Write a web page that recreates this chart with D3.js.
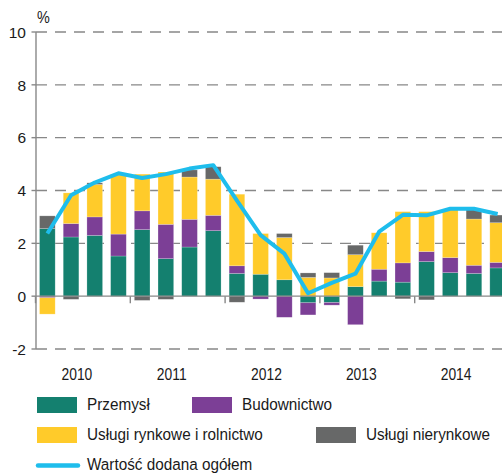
<!DOCTYPE html>
<html><head><meta charset="utf-8">
<script src="https://cdn.jsdelivr.net/npm/d3@7"></script>
<style>body{margin:0;background:#fff}svg{display:block}text{font-family:"Liberation Sans",Arial,sans-serif;fill:#1a1a1a}</style>
</head><body><svg id="c" width="502" height="473"></svg>
<script>
const quarters = ["2010Q1","2010Q2","2010Q3","2010Q4","2011Q1","2011Q2","2011Q3","2011Q4","2012Q1","2012Q2","2012Q3","2012Q4","2013Q1","2013Q2","2013Q3","2013Q4","2014Q1","2014Q2","2014Q3","2014Q4"];
const years = ["2010","2011","2012","2013","2014"];
const przemysl = [2.56,2.24,2.30,1.52,2.52,1.42,1.86,2.48,0.86,0.83,0.62,-0.25,-0.24,0.36,0.57,0.53,1.31,0.89,0.86,1.07];
const budownictwo = [-0.06,0.51,0.70,0.83,0.71,1.30,1.05,0.58,0.29,-0.11,-0.80,-0.46,-0.10,-1.08,0.45,0.73,0.38,0.57,0.31,0.21];
const uslugiRynkowe = [-0.62,1.16,1.23,2.27,1.39,1.98,1.60,1.37,2.71,1.54,1.60,0.71,0.69,1.21,1.38,1.94,1.51,1.84,1.75,1.50];
const uslugiNierynkowe = [0.48,-0.12,0.06,0.00,-0.16,-0.12,0.27,0.47,-0.23,0.00,0.15,0.17,0.20,0.36,0.00,-0.10,-0.14,0.00,0.38,0.29];
const wartoscDodana = [2.37,3.82,4.30,4.65,4.47,4.62,4.83,4.96,3.62,2.31,1.61,0.11,0.50,0.85,2.44,3.08,3.06,3.31,3.31,3.11];
const yTicks = [-2,0,2,4,6,8,10];
const seriesNames = ["Przemysł","Budownictwo","Usługi rynkowe i rolnictwo","Usługi nierynkowe"];
const lineName = "Wartość dodana ogółem";
const colors = ["#14806f","#7c3f96","#ffcb2a","#676868"];
const lineColor = "#1ebdec";

const svg = d3.select("#c");
const x = d3.scaleBand().domain(quarters).range([35.5, 509.5]).paddingInner(0.34).paddingOuter(0.17);
const y = d3.scaleLinear().domain([-2, 10]).range([349, 32]);
function txt(g, xx, yy, s, anchor, size, sx) {
  return g.append("text").attr("transform", `translate(${xx},${yy}) scale(${sx},1)`)
    .attr("text-anchor", anchor || "start").style("font-size", size + "px").text(s);
}

// gridlines
const grid = svg.append("g");
yTicks.filter(v => v !== 0).forEach(v => {
  grid.append("line").attr("x1", 36).attr("x2", 502).attr("y1", y(v)).attr("y2", y(v))
    .attr("stroke", "#888").attr("stroke-width", 1.4).attr("stroke-dasharray", "11,8");
});

// stacked bars
const rows = quarters.map((q, i) => ({q, s0: przemysl[i], s1: budownictwo[i], s2: uslugiRynkowe[i], s3: uslugiNierynkowe[i]}));
const stack = d3.stack().keys(["s0","s1","s2","s3"]).offset(d3.stackOffsetDiverging);
const layers = stack(rows);
svg.append("g").selectAll("g").data(layers).join("g").attr("fill", (d, i) => colors[i])
  .selectAll("rect").data(d => d).join("rect")
  .attr("x", d => x(d.data.q)).attr("width", x.bandwidth())
  .attr("y", d => y(Math.max(d[0], d[1])))
  .attr("height", d => Math.abs(y(d[0]) - y(d[1])))
  .attr("stroke", "#fff").attr("stroke-opacity", 0.35).attr("stroke-width", 0.6);

// axes
svg.append("line").attr("x1", 36).attr("x2", 36).attr("y1", y(10)).attr("y2", y(-2)).attr("stroke", "#888").attr("stroke-width", 1.4);
svg.append("line").attr("x1", 36).attr("x2", 502).attr("y1", y(0)).attr("y2", y(0)).attr("stroke", "#888").attr("stroke-width", 1.4);
yTicks.forEach(v => {
  svg.append("line").attr("x1", 31.5).attr("x2", 36).attr("y1", y(v)).attr("y2", y(v)).attr("stroke", "#888").attr("stroke-width", 1.4);
  txt(svg, 26, y(v) + 5.7, String(v), "end", 15.5, 1);
});
txt(svg, 37, 23, "%", "start", 16, 0.9);
const step = x.step();
const r0 = x.range()[0];
years.forEach((yr, k) => {
  const bx = r0 + k * 4 * step;
  svg.append("line").attr("x1", bx).attr("x2", bx).attr("y1", y(0)).attr("y2", y(0) + 7).attr("stroke", "#888").attr("stroke-width", 1.4);
  txt(svg, bx + 2 * step - 6, 379.5, yr, "middle", 16.5, 0.84);
});

// line
const line = d3.line().x((d, i) => x(quarters[i]) + x.bandwidth() / 2).y(d => y(d));
svg.append("path").datum(wartoscDodana).attr("d", line).attr("fill", "none")
  .attr("stroke", lineColor).attr("stroke-width", 4).attr("stroke-linejoin", "round");

// legend
const lg = svg.append("g");
const legPos = [[37, 397, 87, 410], [192, 397, 242, 410], [37, 427, 87, 439.5], [316, 427, 366, 439.5]];
seriesNames.forEach((n, i) => {
  const p = legPos[i];
  lg.append("rect").attr("x", p[0]).attr("y", p[1]).attr("width", 40).attr("height", 16).attr("fill", colors[i]);
  txt(lg, p[2], p[3], n, "start", 17, 0.9);
});
lg.append("line").attr("x1", 38).attr("x2", 78).attr("y1", 465.5).attr("y2", 465.5)
  .attr("stroke", lineColor).attr("stroke-width", 4.5).attr("stroke-linecap", "round");
txt(lg, 87, 469.5, lineName, "start", 17, 0.9);
</script></body></html>
